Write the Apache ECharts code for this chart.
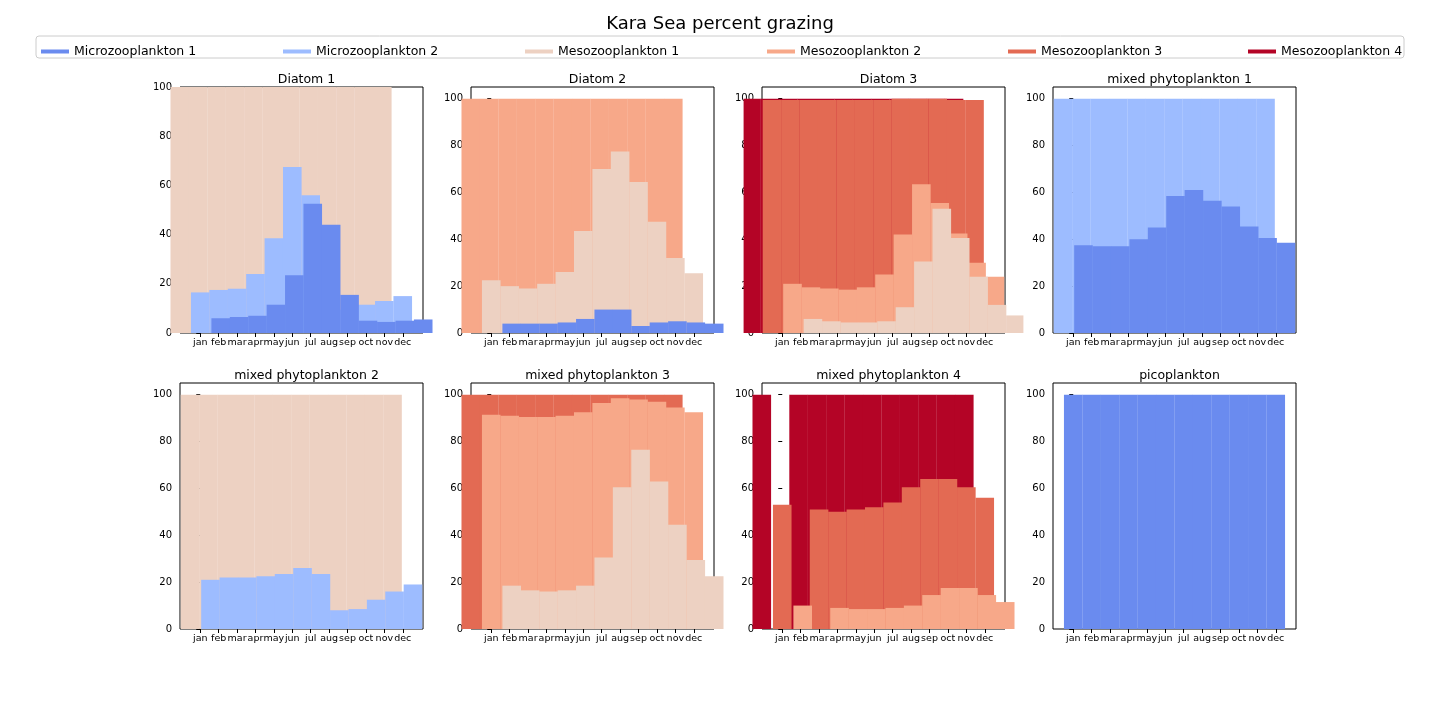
<!DOCTYPE html>
<html><head><meta charset="utf-8">
<script src="https://cdn.jsdelivr.net/npm/echarts@6/dist/echarts.min.js"></script>
<style>html,body{margin:0;padding:0;background:#fff}#c{width:1440px;height:720px}</style>
</head><body><div id="c"></div>
<script>
const months = ['jan','feb','mar','apr','may','jun','jul','aug','sep','oct','nov','dec'];
const seriesNames = ['Microzooplankton 1','Microzooplankton 2','Mesozooplankton 1','Mesozooplankton 2','Mesozooplankton 3','Mesozooplankton 4'];
const colors = ['#6a8bef','#9dbcff','#edd1c2','#f7a889','#e36a53','#b40426'];
const panelTitles = ['Diatom 1','Diatom 2','Diatom 3','mixed phytoplankton 1','mixed phytoplankton 2','mixed phytoplankton 3','mixed phytoplankton 4','picoplankton'];
// cumulative tops per panel per series
const d1_micro1 = [6,6.5,7,11.5,23.5,52.5,44,15.5,5,4.5,5,5.5];
const d1_micro2 = [16.5,17.5,18,24,38.5,67.5,56,21.5,9.5,11.5,13,15];
const d2_micro1 = [4,4,4,4.5,6,10,10,3,4.5,5,4.5,4];
const d2_meso1 = [22.5,20,19,21,26,43.5,70,77.5,64.5,47.5,32,25.5];
const d3_meso1 = [6,5,4.5,4.5,5,11,30.5,53,40.5,24,12,7.5];
const d3_meso2 = [21,19.5,19,18.5,19.5,25,42,63.5,55.5,42.5,30,24];
const d3_meso3 = [99.5,99.5,99.5,99.5,99.5,99.5,99.5,100,100,100,99.5,99.5];
const m1_micro1 = [37.5,37,37,40,45,58.5,61,56.5,54,45.5,40.5,38.5];
const m2_micro2 = [21,22,22,22.5,23.5,26,23.5,8,8.5,12.5,16,19];
const m3_meso1 = [18.5,16.5,16,16.5,18.5,30.5,60.5,76.5,63,44.5,29.5,22.5];
const m3_meso2 = [91.5,91,90.5,90.5,91,92.5,96.5,98.5,98,97,94.5,92.5];
const m4_meso2 = [10,0,9,8.5,8.5,9,10,14.5,17.5,17.5,14.5,11.5];
const m4_meso3 = [53,0,51,50,51,52,54,60.5,64,64,60.5,56];
const m4_total = [100,0,100,100,100,100,100,100,100,100,100,100];
const full = months.map(()=>100);

const panels = [
  [[0,d1_micro1],[1,d1_micro2],[2,full]],
  [[0,d2_micro1],[2,d2_meso1],[3,full]],
  [[2,d3_meso1],[3,d3_meso2],[4,d3_meso3],[5,full]],
  [[0,m1_micro1],[1,full]],
  [[1,m2_micro2],[2,full]],
  [[2,m3_meso1],[3,m3_meso2],[4,full]],
  [[3,m4_meso2],[4,m4_meso3],[5,m4_total]],
  [[0,full]]
];
const yMax = [100,105,105,105,105,105,105,105];

const lefts=[180,471,762,1053], tops=[87,383], W=243, H=246;
const grid=[],xAxis=[],yAxis=[],series=[],title=[{text:'Kara Sea percent grazing',left:'center',top:10,textStyle:{fontSize:18,fontWeight:'normal',color:'#000',fontFamily:'DejaVu Sans'}}];
panels.forEach((p,i)=>{
  const L=lefts[i%4], T=tops[Math.floor(i/4)];
  grid.push({left:L,top:T,width:W,height:H,show:true,borderColor:'#000',borderWidth:1,backgroundColor:'#fff'});
  title.push({text:panelTitles[i],left:L+W/2,top:T-19,textAlign:'center',textStyle:{fontSize:12.5,fontWeight:'normal',color:'#000',fontFamily:'DejaVu Sans'}});
  xAxis.push({type:'value',gridIndex:i,min:-1.1,max:12.1,
    axisLine:{show:false},splitLine:{show:false},
    axisTick:{show:true,length:4,lineStyle:{color:'#000'},customValues:months.map((m,k)=>k)},
    axisLabel:{fontSize:9.5,color:'#000',fontFamily:'DejaVu Sans',customValues:months.map((m,k)=>k),formatter:v=>months[Math.round(v)]||'',margin:5}});
  yAxis.push({type:'value',gridIndex:i,min:0,max:yMax[i],
    axisLine:{show:false},splitLine:{show:false},
    axisTick:{show:true,length:4,lineStyle:{color:'#000'},customValues:[0,20,40,60,80,100]},
    axisLabel:{fontSize:10,color:'#000',fontFamily:'DejaVu Sans',customValues:[0,20,40,60,80,100]}});
  // draw cumulative tops, largest first so smaller ones paint over
  p.slice().reverse().forEach(([si,topv],j)=>{
    series.push({type:'bar',name:seriesNames[si],xAxisIndex:i,yAxisIndex:i,barWidth:18.6,z:2+j,
      itemStyle:{color:colors[si]},emphasis:{disabled:true},animation:false,
      data:topv.map((v,k)=>[k,v])});
  });
});
const legendX=[36,278,520,762,1003,1243];
const legend=seriesNames.map((n,k)=>({data:[n],left:legendX[k],top:40,icon:'rect',itemWidth:28,itemHeight:4,
  textStyle:{fontSize:12.5,color:'#000',fontFamily:'DejaVu Sans'},selectedMode:false}));
const graphic=[{type:'rect',shape:{x:36,y:36,width:1368,height:22,r:3},style:{fill:'#fff',stroke:'#ccc',lineWidth:1},z:-1}];
const chart=echarts.init(document.getElementById('c'));
chart.setOption({animation:false,color:colors,title,legend,grid,xAxis,yAxis,series,graphic});
</script></body></html>
